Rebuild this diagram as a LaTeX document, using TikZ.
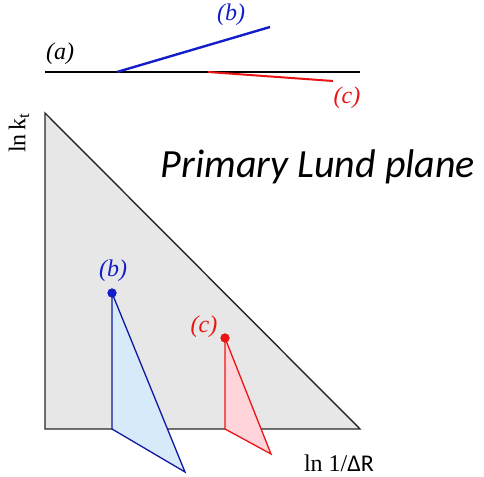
\documentclass[tikz,border=0pt]{standalone}
\usepackage{fontspec}
\setmainfont{Liberation Serif}
\newfontfamily\lundfont{Carlito}
\usepackage{tikz}
\usetikzlibrary{arrows.meta,positioning,calc}
\definecolor{emitb}{RGB}{20,30,200}
\definecolor{emitc}{RGB}{235,20,20}
\definecolor{planefill}{RGB}{231,231,231}
\definecolor{bfill}{RGB}{214,234,250}
\definecolor{cfill}{RGB}{255,212,218}

\begin{document}
\begin{tikzpicture}[x=1pt,y=1pt,
    lbl/.style={font=\fontsize{24}{26}\selectfont\itshape},
    axlbl/.style={font=\fontsize{24}{26}\selectfont,inner sep=0pt},
    dot/.style={circle,inner sep=0pt,minimum size=9pt}]
  \useasboundingbox (0,0) rectangle (484,476);
  % emission sketch
  \coordinate (a0) at (45,404);
  \coordinate (a1) at (360,404);
  \coordinate (b0) at (117,404);
  \coordinate (b1) at (270,449);
  \coordinate (c0) at (208,404);
  \coordinate (c1) at (333,395);
  \draw[line width=2.6pt] (a0)--(a1);
  \draw[emitb,line width=2.4pt] (b0)--(b1);
  \draw[emitc,line width=2pt] (c0)--(c1);
  \node[lbl] (la) at (60,422) {(a)};
  \node[lbl,emitb] (lb) at (231,461) {(b)};
  \node[lbl,emitc] (lc) at (347,378) {(c)};
  % lund plane
  \coordinate (top) at (45,363);
  \coordinate (orig) at (45,47);
  \coordinate (end) at (360,47);
  \fill[planefill] (top)--(orig)--(end)--cycle;
  \draw[line width=1.4pt,black!85] (top)--(orig)--(end)--cycle;
  % secondary planes
  \node[dot,fill=emitb] (pb) at (112,183) {};
  \coordinate (bb) at (112,47);
  \coordinate (be) at (185,4);
  \filldraw[fill=bfill,draw=emitb!80!black,line width=1.3pt] (pb.center)--(bb)--(be)--cycle;
  \node[dot,fill=emitb] at (pb) {};
  \node[dot,fill=emitc] (pc) at (225,138) {};
  \coordinate (cb) at (225,47);
  \coordinate (ce) at (271,22);
  \filldraw[fill=cfill,draw=emitc,line width=1.3pt] (pc.center)--(cb)--(ce)--cycle;
  \node[dot,fill=emitc] at (pc) {};
  \node[lbl,emitb] (lpb) at (113,205) {(b)};
  \node[lbl,emitc] (lpc) at (204,149) {(c)};
  % axes
  \node[rotate=90,axlbl] (ykt) at (19,343) {ln\,k$_{\mathrm{t}}$};
  \node[axlbl,anchor=south] (xdr) at (339,4) {ln 1/{\lundfont ΔR}};
  \node[font=\lundfont\fontsize{40}{44}\selectfont\itshape] (title) at (318,309) {Primary Lund plane};
\end{tikzpicture}
\end{document}
